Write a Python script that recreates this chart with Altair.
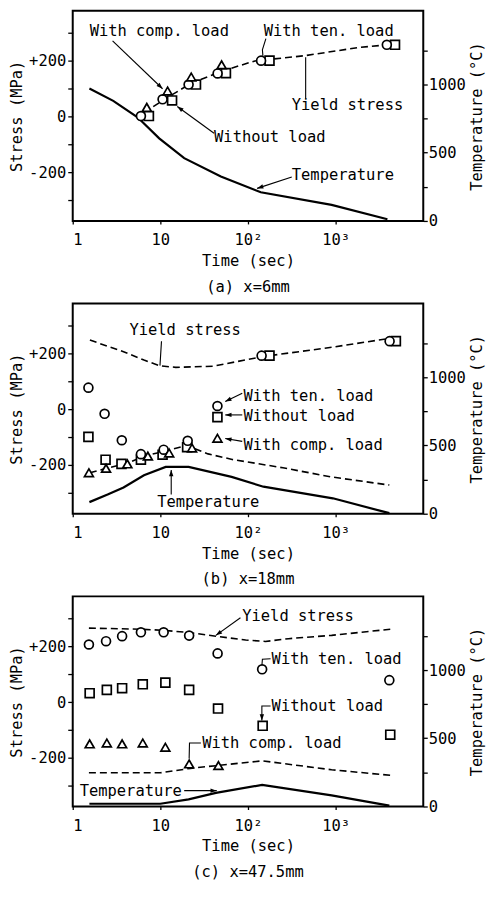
import math
import altair as alt
import pandas as pd

FONT = "DejaVu Sans Mono"
FS = 15.5
W, H = 352, 211
S_DOM = [-375, 380]
T_DOM = [0, 1540]
X_DOM = [1, 10000]

# ---------------- Panel (a) x=6mm ----------------
a_temp_t = [1.55, 2.9, 5.5, 9.7, 18.7, 49, 140, 900, 3900]
a_temp_T = [970, 880, 760, 605, 460, 325, 210, 118, 12]
a_yield_t = [6.5, 12, 22, 50, 120, 450, 1800, 3900]
a_yield_s = [15, 68, 118, 163, 200, 219, 248, 258]
a_ten_t = [6.0, 10.6, 21, 45, 141, 3840]
a_ten_s = [2, 62, 115, 155, 201, 258]
a_free_t = [7.4, 13.6, 25.5, 56, 176, 4760]
a_free_s = [2, 58, 115, 156, 201, 258]
a_comp_t = [7.0, 12.1, 22.5, 50]
a_comp_s = [33, 92, 142, 186]
a_text_label = ["With comp. load", "With ten. load", "Yield stress", "Without load", "Temperature"]
a_text_t = [1.56, 151, 316, 41, 316]
a_text_s = [308, 308, 40, -74, -210]
a_leaders = [
    ([2.85, 10.6], [272, 100], True),
    ([160, 146, 148], [280, 240, 218], False),
    ([455, 455], [64, 213], False),
    ([41, 15.6], [-60, 36], True),
    ([316, 127], [-217, -258], True),
]

# ---------------- Panel (b) x=18mm ----------------
b_temp_t = [1.55, 2.5, 3.8, 6.5, 11.5, 21, 65, 150, 930, 4100]
b_temp_T = [85, 140, 192, 282, 343, 343, 270, 198, 113, 4]
b_yield_up_t = [1.57, 3.8, 6.5, 10, 15, 40, 150, 900, 4100]
b_yield_up_s = [249, 207, 177, 156, 151, 155, 190, 223, 255]
b_yield_lo_t = [1.57, 2.4, 4.2, 6.5, 10.6, 20, 35, 66, 250, 900, 4100]
b_yield_lo_s = [-228, -212, -194, -168, -152, -130, -160, -180, -210, -243, -272]
b_ten_t = [1.51, 2.31, 3.63, 6.0, 10.9, 20.5, 44.8, 143, 4130]
b_ten_s = [78, -16, -111, -161, -145, -113, 12, 193, 245]
b_free_t = [1.51, 2.37, 3.6, 6.0, 10.6, 20.2, 44.8, 176, 4870]
b_free_s = [-99, -181, -196, -181, -163, -136, -28, 193, 245]
b_comp_t = [1.53, 2.4, 4.2, 7.2, 12.6, 23, 44.8]
b_comp_s = [-228, -212, -196, -168, -157, -139, -104]
b_text_label = ["Yield stress", "With ten. load", "Without load", "With comp. load", "Temperature"]
b_text_t = [4.44, 88.6, 88.6, 88.6, 9.2]
b_text_s = [284, 47, -24, -127, -332]
b_leaders = [
    ([10.3, 9.9], [245, 157], False),
    ([86, 55], [58, 28], True),
    ([86, 55], [-20, -20], True),
    ([86, 55], [-115, -105], True),
    ([13.3, 13.3], [-306, -218], True),
]

# ---------------- Panel (c) x=47.5mm ----------------
c_temp_t = [1.55, 10, 21, 43, 145, 900, 4100]
c_temp_T = [20, 20, 52, 100, 158, 82, 6]
c_yield_up_t = [1.53, 6, 11, 21, 43, 94, 158, 290, 900, 4200]
c_yield_up_s = [266, 262, 258, 250, 237, 223, 218, 228, 240, 262]
c_yield_lo_t = [1.53, 10, 22, 145, 900, 4200]
c_yield_lo_s = [-254, -254, -238, -211, -243, -263]
c_ten_t = [1.53, 2.4, 3.66, 6.0, 10.9, 21.3, 45, 145, 4100]
c_ten_s = [207, 219, 237, 251, 251, 239, 175, 118, 79]
c_free_t = [1.56, 2.45, 3.66, 6.3, 11.4, 21.3, 45.5, 147, 4200]
c_free_s = [32, 44, 50, 64, 70, 44, -23, -85, -117]
c_comp_t = [1.56, 2.45, 3.66, 6.3, 11.4, 21.3, 46]
c_comp_s = [-150, -147, -150, -147, -162, -222, -228]
c_text_label = ["Yield stress", "With ten. load", "Without load", "With comp. load", "Temperature"]
c_text_t = [86, 186, 186, 30, 1.2]
c_text_s = [311, 156, -14, -147, -318]
c_leaders = [
    ([82, 43], [303, 240], True),
    ([181, 146, 144], [156, 154, 130], False),
    ([181, 144, 144], [-14, -14, -66], True),
    ([29, 21.5, 21.3], [-147, -147, -203], False),
    ([18.7, 44], [-318, -318], True),
]

PX_PER_DEC = W / 4.0
PX_PER_MPA = H / (S_DOM[1] - S_DOM[0])
ARROW = "M0,0L0.42,1.2L-0.42,1.2Z"

X = alt.X("t:Q", scale=alt.Scale(type="log", domain=X_DOM, nice=False),
          axis=alt.Axis(values=[1, 10, 100, 1000], title="Time (sec)",
                        labelExpr="datum.value==100?'10²':datum.value==1000?'10³':datum.value==10?'10':'1'",
                        tickSize=3, labelPadding=9, titlePadding=5, labelOverlap=False))
S_SCALE = alt.Scale(domain=S_DOM, nice=False, zero=False)


def ys(axis=False):
    if axis:
        return alt.Y("s:Q", scale=S_SCALE,
                      axis=alt.Axis(orient="left", title="Stress (MPa)",
                                    values=[-300, -200, -100, 0, 100, 200, 300],
                                    labelExpr="datum.value==200?'+200':datum.value==0?'0':datum.value==-200?'-200':''",
                                    tickSize=5, labelPadding=2, titlePadding=4))
    return alt.Y("s:Q", scale=S_SCALE, axis=None)


def panel(caption, temp_t, temp_T, yield_sets, ten, free, comp, texts, leaders):
    temp_df = pd.DataFrame({"t": temp_t, "T": temp_T})
    yrows = []
    for k, (tt, ss) in enumerate(yield_sets):
        for i, (a, b) in enumerate(zip(tt, ss)):
            yrows.append({"t": a, "s": b, "seg": k, "o": i})
    yield_df = pd.DataFrame(yrows)
    lrows, arows = [], []
    for k, (tt, ss, arrow) in enumerate(leaders):
        for i, (a, b) in enumerate(zip(tt, ss)):
            lrows.append({"t": a, "s": b, "seg": k, "o": i})
        if arrow:
            dx = PX_PER_DEC * (math.log10(tt[-1]) - math.log10(tt[-2]))
            dy = -PX_PER_MPA * (ss[-1] - ss[-2])
            ang = math.degrees(math.atan2(dx, -dy)) % 360
            arows.append({"t": tt[-1], "s": ss[-1], "ang": ang})
    lead_df = pd.DataFrame(lrows)
    arr_df = pd.DataFrame(arows)
    text_df = pd.DataFrame({"t": texts[1], "s": texts[2], "label": texts[0]})

    temp = alt.Chart(temp_df).mark_line(color="black", strokeWidth=2.2).encode(
        x=X,
        y=alt.Y("T:Q", scale=alt.Scale(domain=T_DOM, nice=False, zero=False),
                axis=alt.Axis(orient="right", title="Temperature (°C)",
                              values=[0, 250, 500, 750, 1000, 1250],
                              labelExpr="(datum.value==0||datum.value==500||datum.value==1000)?''+datum.value:''",
                              tickSize=4, labelPadding=1, titlePadding=19, titleAngle=270)),
    )
    yl = alt.Chart(yield_df).mark_line(color="black", strokeWidth=1.6, strokeDash=[7, 4]).encode(
        x=X, y=ys(True), detail="seg:N", order="o:Q")
    ld = alt.Chart(lead_df).mark_line(color="black", strokeWidth=1.1).encode(
        x=X, y=ys(), detail="seg:N", order="o:Q")
    layers = [temp, yl, ld]
    if len(arr_df):
        ar = alt.Chart(arr_df).mark_point(shape=ARROW, filled=True, color="black", size=110,
                                          opacity=1, strokeWidth=0).encode(
            x=X, y=ys(), angle=alt.Angle("ang:Q", scale=None))
        layers.append(ar)
    for (tt, ss), shp in [(free, "square"), (ten, "circle"), (comp, "triangle-up")]:
        df = pd.DataFrame({"t": tt, "s": ss})
        layers.append(alt.Chart(df).mark_point(shape=shp, fill="white", stroke="black", strokeWidth=1.7,
                                                size=80, opacity=1, fillOpacity=1).encode(x=X, y=ys()))
    layers.append(alt.Chart(text_df).mark_text(font=FONT, fontSize=FS, align="left", baseline="middle",
                                               color="black").encode(x=X, y=ys(), text="label:N"))
    return alt.layer(*layers).resolve_scale(y="independent").properties(
        width=W, height=H,
        view=alt.ViewBackground(stroke="black", strokeWidth=2),
        title=alt.TitleParams(caption, orient="bottom", font=FONT, fontSize=FS, fontWeight="normal",
                              color="black", offset=11))


pa = panel("(a)  x=6mm", a_temp_t, a_temp_T, [(a_yield_t, a_yield_s)],
           (a_ten_t, a_ten_s), (a_free_t, a_free_s), (a_comp_t, a_comp_s),
           (a_text_label, a_text_t, a_text_s), a_leaders)
pb = panel("(b)  x=18mm", b_temp_t, b_temp_T, [(b_yield_up_t, b_yield_up_s), (b_yield_lo_t, b_yield_lo_s)],
           (b_ten_t, b_ten_s), (b_free_t, b_free_s), (b_comp_t, b_comp_s),
           (b_text_label, b_text_t, b_text_s), b_leaders)
pc = panel("(c)  x=47.5mm", c_temp_t, c_temp_T, [(c_yield_up_t, c_yield_up_s), (c_yield_lo_t, c_yield_lo_s)],
           (c_ten_t, c_ten_s), (c_free_t, c_free_s), (c_comp_t, c_comp_s),
           (c_text_label, c_text_t, c_text_s), c_leaders)

chart = alt.vconcat(pa, pb, pc, spacing=6).properties(
    padding={"left": 0, "top": 0, "right": 0, "bottom": 0},
    background="white",
).configure_view(stroke="black", strokeWidth=2).configure_axis(
    labelFont=FONT, titleFont=FONT, labelFontSize=FS, titleFontSize=FS, titleFontWeight="normal",
    labelColor="black", titleColor="black", tickColor="black", tickWidth=1.3, domain=False, grid=False
)

chart.save("out.html", embed_options={"renderer": "svg", "actions": False})
